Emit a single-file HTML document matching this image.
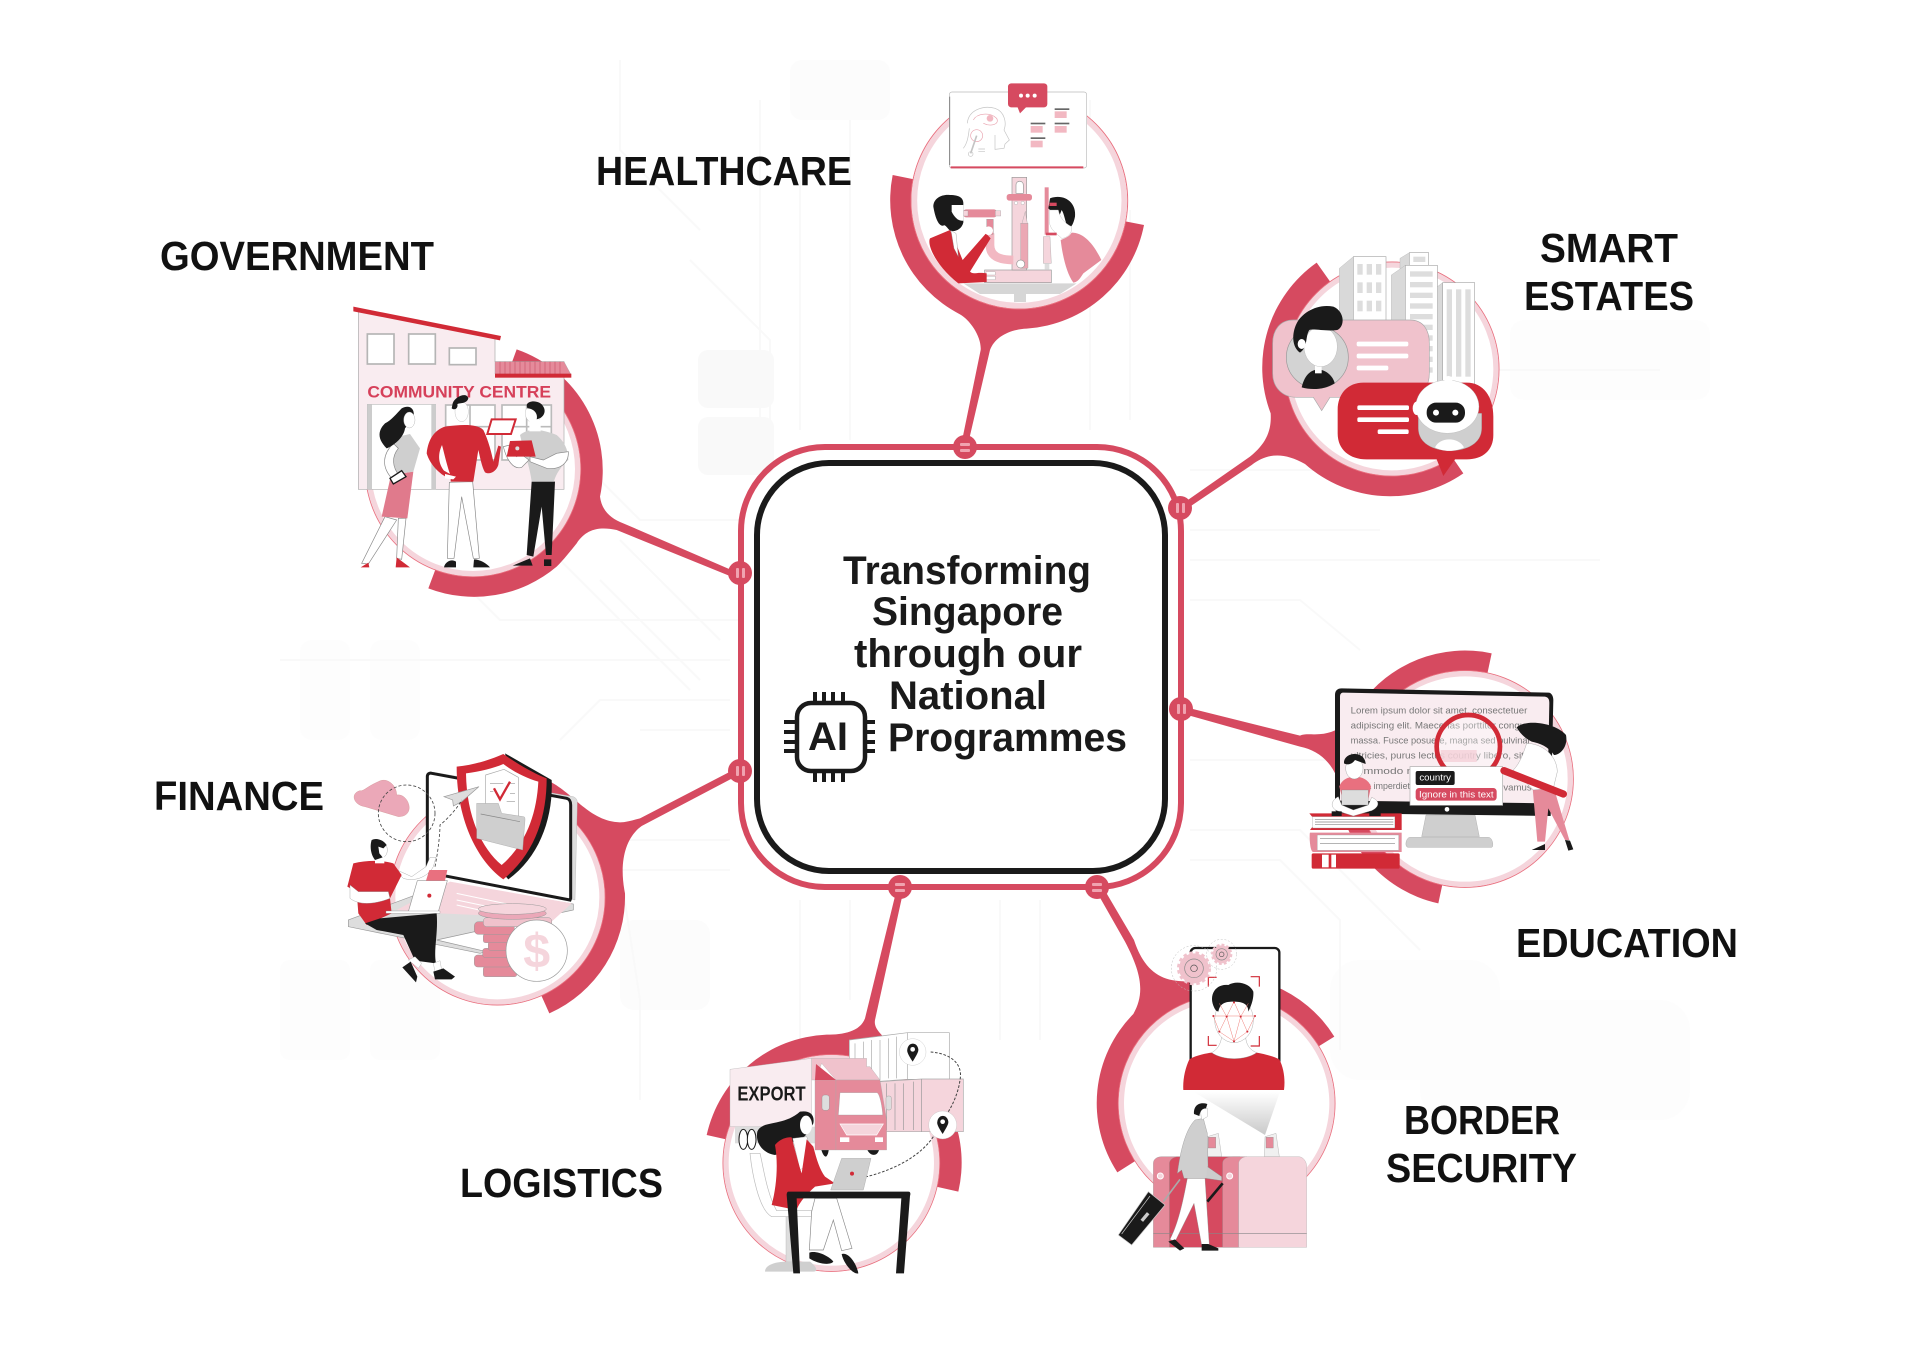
<!DOCTYPE html>
<html lang="en"><head><meta charset="utf-8"><title>Transforming Singapore through our National AI Programmes</title>
<style>
html,body{margin:0;padding:0;background:#fff}
svg{display:block}
text{font-family:"Liberation Sans",sans-serif}
.lb{font-weight:700;font-size:41px;fill:#111}
.ct{font-weight:700;font-size:40px;fill:#1a1a1a}
.c{fill:#d64a60}
.r{fill:#d12a36}
.p{fill:#f5d5dc}
.m{fill:#e58a9a}
.k{fill:#1a1a1a}
.g{fill:#cfcfcf}
.w{fill:#fff}
</style></head><body>
<svg width="1920" height="1357" viewBox="0 0 1920 1357" xmlns="http://www.w3.org/2000/svg">
<rect width="1920" height="1357" fill="#fff"/>

<!-- faint background circuitry -->
<g fill="#f9f9f9" stroke="none">
<rect x="698" y="350" width="76" height="58" rx="10"/><rect x="698" y="417" width="76" height="58" rx="10"/>
<rect x="790" y="60" width="100" height="60" rx="12" fill="#fcfcfc"/>
<rect x="300" y="640" width="50" height="100" rx="12" fill="#fdfdfd"/><rect x="370" y="640" width="50" height="100" rx="12" fill="#fdfdfd"/>
<rect x="280" y="960" width="70" height="100" rx="10" fill="#fdfdfd"/><rect x="370" y="960" width="70" height="100" rx="10" fill="#fdfdfd"/>
<rect x="1330" y="960" width="170" height="120" rx="30" fill="#fdfdfd"/>
<rect x="1420" y="1000" width="270" height="120" rx="30" fill="#fdfdfd"/>
<rect x="1510" y="320" width="200" height="80" rx="14" fill="#fdfdfd"/>
<rect x="620" y="920" width="90" height="90" rx="14" fill="#fcfcfc"/>
</g>
<g fill="none" stroke="#f9f9f9" stroke-width="2">
<path d="M760,100V420M800,180V430M850,120V440M1090,100V430M1130,210V420"/>
<path d="M700,230 L620,150V60M690,260 L770,340V440"/>
<path d="M1190,470H1320L1420,370H1660M1190,530H1380M1190,560H1600M1190,600H1300L1360,650"/>
<path d="M1190,760H1340M1190,830H1300L1420,950M1190,860H1280L1340,920V1050"/>
<path d="M740,520H640L540,420M740,620H500L440,560M730,660H280M730,700H600L560,740M730,730H640"/>
<path d="M730,840H560M730,870H620L640,1000V1100M800,900V1040M850,900V1000M1040,900V1040M1000,900V1040"/>
<path d="M600,580L700,680M560,560L690,690M620,540L720,640"/>
</g>

<!-- labels -->
<text class="lb" x="596" y="185" textLength="256" lengthAdjust="spacingAndGlyphs">HEALTHCARE</text>
<text class="lb" x="160" y="270" textLength="274" lengthAdjust="spacingAndGlyphs">GOVERNMENT</text>
<text class="lb" x="1540" y="262" textLength="138" lengthAdjust="spacingAndGlyphs">SMART</text>
<text class="lb" x="1524" y="310" textLength="170" lengthAdjust="spacingAndGlyphs">ESTATES</text>
<text class="lb" x="154" y="810" textLength="170" lengthAdjust="spacingAndGlyphs">FINANCE</text>
<text class="lb" x="1516" y="957" textLength="222" lengthAdjust="spacingAndGlyphs">EDUCATION</text>
<text class="lb" x="1404" y="1134" textLength="156" lengthAdjust="spacingAndGlyphs">BORDER</text>
<text class="lb" x="1386" y="1182" textLength="191" lengthAdjust="spacingAndGlyphs">SECURITY</text>
<text class="lb" x="460" y="1197" textLength="203" lengthAdjust="spacingAndGlyphs">LOGISTICS</text>

<!-- HEALTHCARE -->
<g transform="translate(880,70) scale(.33333)">
<path class="c" d="M792,465 A385,385 0 0 1 440,776 C390,778 345,800 330,840 L262,1131 L243,1127 L302,840 C305,800 270,750 240,733 A385,385 0 0 1 38,315 L418,392 Z"/>
<circle cx="418" cy="392" r="325" fill="#fff" stroke="#e9707f" stroke-width="3"/>
<circle cx="418" cy="392" r="315" fill="none" stroke="#f5d5dc" stroke-width="17"/>
<rect x="208" y="66" width="412" height="228" rx="8" fill="#fff" stroke="#bbb" stroke-width="2"/>
<path d="M212,292H610" stroke="#d64a60" stroke-width="6"/>
<path d="M209,80V285" stroke="#888" stroke-width="3"/>
<rect class="c" x="384" y="40" width="118" height="72" rx="10"/><path class="c" d="M412,110H440L420,130Z"/>
<circle class="w" cx="423" cy="77" r="6"/><circle class="w" cx="443" cy="77" r="6"/><circle class="w" cx="464" cy="77" r="6"/>
<g fill="none" stroke="#c4c4c4" stroke-width="2">
<path d="M262,160C265,120 310,105 345,115C375,125 380,160 372,180L388,210L375,222L372,235L345,238L345,195"/>
<path d="M280,150C290,130 330,125 350,145C360,165 330,170 310,160" stroke="#e9a3af"/>
<circle cx="290" cy="197" r="18" stroke="#e9a3af"/><path d="M290,197L272,250" stroke-width="5"/><circle cx="272" cy="252" r="7"/>
<path d="M250,235C262,220 265,200 268,175"/><path d="M295,237H315M295,245H315"/>
</g>
<circle cx="330" cy="145" r="10" fill="#f2b8c2"/>
<g fill="#666"><rect x="524" y="115" width="44" height="5"/><rect x="452" y="158" width="44" height="5"/><rect x="524" y="158" width="44" height="5"/><rect x="452" y="202" width="44" height="5"/></g>
<g fill="#f2b8c2"><rect x="524" y="124" width="36" height="20"/><rect x="452" y="168" width="36" height="20"/><rect x="524" y="168" width="36" height="20"/><rect x="452" y="212" width="36" height="20"/></g>
<!-- table + machine -->
<path d="M250,640H590L540,672H300Z" fill="#d6d6d6"/><rect x="402" y="672" width="36" height="24" fill="#d6d6d6"/>
<rect x="314" y="600" width="200" height="38" fill="#f5d5dc" stroke="#999" stroke-width="2"/>
<rect x="318" y="605" width="28" height="10" fill="#fff" stroke="#999"/><rect x="318" y="619" width="28" height="10" fill="#fff" stroke="#999"/>
<rect x="396" y="322" width="44" height="278" fill="#f5d5dc" stroke="#999" stroke-width="2"/>
<path d="M408,370V345C408,330 430,330 430,345V370Z" fill="#fff" stroke="#999" stroke-width="2"/>
<rect class="m" x="380" y="372" width="76" height="20" rx="8"/>
<circle cx="408" cy="399" r="5" fill="#fff" stroke="#999"/><circle cx="428" cy="399" r="5" fill="#fff" stroke="#999"/>
<path d="M330,490V525C330,560 360,570 400,570" fill="none" stroke="#f2b8c2" stroke-width="26"/>
<rect x="422" y="460" width="22" height="135" fill="#eba8b4" stroke="#999"/><path d="M426,460L436,424L442,460Z" fill="#f5d5dc" stroke="#999"/>
<circle cx="422" cy="582" r="12" fill="#fff" stroke="#999" stroke-width="2"/>
<rect class="m" x="250" y="418" width="100" height="24" rx="8"/><rect x="346" y="422" width="16" height="16" fill="#f5d5dc" stroke="#999"/><rect x="250" y="422" width="14" height="16" fill="#f5d5dc" stroke="#999"/>
<rect x="320" y="448" width="20" height="45" fill="#e58a9a" stroke="#888"/>
<rect class="m" x="494" y="352" width="12" height="142"/>
<path d="M490,500H510L514,580H490Z" fill="#f5d5dc" stroke="#999"/><rect x="494" y="580" width="14" height="18" fill="#ddd"/>
<!-- doctor -->
<path class="k" d="M160,410C160,385 185,372 210,375C240,375 252,385 250,405L250,458C245,478 225,487 210,482C200,472 195,462 190,467C175,470 165,440 160,410Z"/>
<path class="w" d="M215,405H250V452C235,455 222,440 215,425Z"/>
<path class="r" d="M210,480L150,505C140,525 170,590 235,640L320,636V610C290,605 280,615 270,605L332,505L318,490L248,570C235,540 225,510 210,480Z"/>
<path class="w" d="M213,482L228,490L235,560L222,535Z" stroke="#888"/>
<circle class="w" cx="326" cy="482" r="13"/>
<!-- patient -->
<path class="k" d="M510,385C550,370 590,395 585,440C580,465 570,480 562,470C556,455 552,430 545,420L535,445L505,415Z"/>
<path class="w" d="M508,420L535,420C540,445 555,460 575,470C578,490 560,505 545,505C530,490 510,480 508,455Z" stroke="#aaa"/>
<path class="m" d="M575,488C610,488 640,520 664,570L610,610C600,625 595,635 580,638C560,610 548,560 542,510C555,505 568,500 575,488Z"/>
<rect class="c" x="508" y="398" width="22" height="10"/><rect class="c" x="498" y="488" width="32" height="8"/>
</g>

<!-- GOVERNMENT -->
<g transform="translate(330,280) scale(.33333)">
<path class="c" d="M560,208 A384,384 0 0 1 810,650 C815,690 840,715 880,730 L1200,868 L1195,886 L860,750 C810,740 770,745 740,790 C720,815 700,840 680,860 A384,384 0 0 1 295,925 L429,567 Z"/>
<circle cx="429" cy="567" r="323" fill="#fff" stroke="#e9707f" stroke-width="3"/>
<circle cx="429" cy="567" r="314" fill="none" stroke="#f5d5dc" stroke-width="16"/>
<path d="M85,95L495,175V245H702V628H85Z" fill="#f9ecf0" stroke="#aaa" stroke-width="2"/>
<path class="r" d="M70,80L513,168L510,181L70,94Z"/>
<g fill="#fff" stroke="#b5b5b5" stroke-width="5"><rect x="112" y="162" width="80" height="90"/><rect x="236" y="162" width="80" height="90"/><rect x="358" y="204" width="80" height="50"/></g>
<path d="M495,245H702L722,282H495Z" fill="#e58a9a" stroke="#999"/>
<path d="M510,245V282M525,245V282M540,245V282M555,245V282M570,245V282M585,245V282M600,245V282M615,245V282M630,245V282M645,245V282M660,245V282M675,245V282M690,245V282" stroke="#c9566a" stroke-width="2"/>
<rect class="r" x="495" y="281" width="229" height="12"/>
<text x="112" y="353" font-size="50" font-weight="700" fill="#d6405a" textLength="551" lengthAdjust="spacingAndGlyphs">COMMUNITY CENTRE</text>
<rect x="112" y="373" width="205" height="255" fill="#fff" stroke="#bdbdbd" stroke-width="2"/>
<rect x="112" y="373" width="14" height="255" fill="#ccc"/><rect x="304" y="373" width="14" height="255" fill="#ccc"/>
<g fill="#fff" stroke="#bbb" stroke-width="5"><rect x="347" y="375" width="148" height="165"/><rect x="516" y="375" width="148" height="165"/><path d="M420,375V540M347,440H495M590,375V540M516,440H664"/></g>
<!-- woman -->
<path d="M165,710L95,850L115,852L200,720ZM205,715L200,835L215,838L228,715Z" fill="#fff" stroke="#888" stroke-width="2"/>
<path class="r" d="M92,862L115,848L118,862ZM197,862L200,832L240,862Z"/>
<path d="M183,585L250,575L232,715L155,710Z" fill="#e07a8c"/>
<path d="M205,470L240,462L270,505L250,575L185,585C190,540 185,510 205,470Z" class="g"/>
<path d="M190,490C160,520 150,560 190,600L210,590C185,560 185,530 205,505Z" fill="#fff" stroke="#888" stroke-width="2"/>
<path class="k" d="M215,385C245,370 258,395 248,415L225,445C222,470 195,495 170,505C145,480 140,455 165,430C185,420 200,400 215,385Z"/>
<ellipse cx="238" cy="420" rx="17" ry="24" fill="#fff" stroke="#999"/>
<path d="M180,595L215,572L228,590L190,612Z" fill="#fff" stroke="#1a1a1a" stroke-width="4"/>
<!-- man red -->
<path d="M358,607L428,605L448,835L430,835L395,650L372,835L352,835Z" fill="#fff" stroke="#888" stroke-width="2"/>
<path class="k" d="M342,862C345,845 365,835 378,845V862ZM430,862L432,838C450,838 470,850 480,862Z"/>
<rect class="w" x="375" y="410" width="40" height="30"/>
<ellipse cx="395" cy="395" rx="20" ry="30" fill="#fff" stroke="#aaa"/>
<path class="k" d="M368,370C375,350 410,335 415,355C410,372 390,368 382,372C385,385 375,392 365,385Z"/>
<path class="r" d="M345,440C390,434 440,430 460,450C475,480 485,520 490,545L505,497L513,500L505,555C498,575 480,585 465,577C455,560 450,530 445,510L430,605H362V595C335,590 300,555 290,520C295,475 315,450 345,440Z"/>
<path class="w" d="M336,495C345,530 352,560 360,582L342,572C326,552 322,525 336,495Z"/>
<path d="M345,582L378,590L370,598L345,595Z" fill="#fff"/>
<path d="M485,418H557L543,462H472Z" fill="#fff" stroke="#d12a36" stroke-width="6"/>
<!-- man right -->
<path class="k" d="M605,605H675L665,825H648L635,680L610,830L590,825ZM548,857L600,835L608,857ZM642,838H664V858H642Z"/>
<path class="g" d="M570,465C600,440 640,450 680,465C710,490 715,520 715,540C690,560 675,590 672,605H605C600,560 580,510 570,465Z"/>
<ellipse cx="610" cy="400" rx="24" ry="28" fill="#fff" stroke="#aaa"/><rect class="w" x="598" y="420" width="34" height="34"/>
<path class="k" d="M590,375C595,360 630,360 640,380C650,395 640,415 620,418C625,400 610,385 592,385Z"/>
<path d="M600,530L640,540L680,520L715,515C717,550 690,570 650,565L600,545Z" fill="#fff" stroke="#888" stroke-width="2"/>
<path d="M520,500C530,540 550,570 575,562L597,540L570,520L560,530L540,495Z" fill="#fff" stroke="#888" stroke-width="2"/>
<path class="r" d="M540,483L605,481L617,530H530Z"/><circle cx="562" cy="505" r="6" fill="#ddd"/>
</g>

<!-- SMART ESTATES -->
<g transform="translate(1250,240) scale(.33333)">
<path class="c" d="M200,68 A385,385 0 0 0 62,520 C65,570 50,610 0,650 L-208,795 L-198,812 L5,675 C50,640 100,635 165,672 A385,385 0 0 0 640,700 L426,387 Z"/>
<circle cx="426" cy="387" r="321" fill="#fff" stroke="#e9707f" stroke-width="3"/>
<circle cx="426" cy="387" r="312" fill="none" stroke="#f5d5dc" stroke-width="16"/>
<!-- buildings -->
<path d="M268,85L310,50V260H268Z" fill="#d9d9d9" stroke="#aaa"/><rect x="310" y="50" width="98" height="210" fill="#fff" stroke="#aaa" stroke-width="2"/>
<g fill="#ddd"><rect x="322" y="72" width="16" height="32"/><rect x="350" y="72" width="16" height="32"/><rect x="378" y="72" width="16" height="32"/><rect x="322" y="127" width="16" height="32"/><rect x="350" y="127" width="16" height="32"/><rect x="378" y="127" width="16" height="32"/><rect x="322" y="182" width="16" height="32"/><rect x="350" y="182" width="16" height="32"/><rect x="378" y="182" width="16" height="32"/></g>
<path d="M450,55L478,38V90H450Z" fill="#d9d9d9" stroke="#aaa"/><rect x="478" y="38" width="58" height="50" fill="#fff" stroke="#aaa" stroke-width="2"/><rect x="490" y="50" width="36" height="16" fill="#ddd"/>
<path d="M424,105L466,76V440H424Z" fill="#d9d9d9" stroke="#aaa"/><rect x="466" y="76" width="96" height="364" fill="#fff" stroke="#aaa" stroke-width="2"/>
<g fill="#ddd"><rect x="480" y="94" width="68" height="16"/><rect x="480" y="126" width="68" height="16"/><rect x="480" y="158" width="68" height="16"/><rect x="480" y="190" width="68" height="16"/><rect x="480" y="222" width="68" height="16"/><rect x="480" y="254" width="68" height="16"/><rect x="480" y="286" width="68" height="16"/><rect x="480" y="318" width="68" height="16"/><rect x="480" y="350" width="68" height="16"/><rect x="480" y="382" width="68" height="16"/></g>
<path d="M562,140L578,128V430H562Z" fill="#d9d9d9" stroke="#aaa"/><rect x="578" y="128" width="96" height="304" fill="#fff" stroke="#aaa" stroke-width="2"/>
<g fill="#ddd"><rect x="590" y="148" width="16" height="262"/><rect x="618" y="148" width="16" height="262"/><rect x="646" y="148" width="16" height="262"/></g>
<!-- person bubble -->
<path d="M130,240H480C520,240 538,270 538,310V400C538,445 510,472 470,472H240L215,512L190,472H140C95,472 68,440 68,400V310C68,270 90,240 130,240Z" fill="#f0c2cc" stroke="#aaa" stroke-width="2"/>
<circle cx="202" cy="352" r="93" fill="#d3d3d3" stroke="#999" stroke-width="2"/>
<path class="k" d="M155,442C165,400 185,390 205,388C230,390 250,410 254,430C220,450 185,450 155,442Z"/>
<rect class="w" x="195" y="372" width="20" height="28"/>
<ellipse cx="212" cy="320" rx="50" ry="60" fill="#fff" stroke="#aaa"/>
<path class="k" d="M140,250C155,220 200,190 250,200C285,215 285,260 262,270C230,275 190,265 178,270C165,290 175,320 150,338C125,320 125,280 140,250Z"/>
<ellipse cx="155" cy="312" rx="12" ry="15" fill="#fff"/>
<g fill="#fff"><rect x="320" y="305" width="155" height="14" rx="5"/><rect x="320" y="341" width="155" height="14" rx="5"/><rect x="320" y="377" width="95" height="14" rx="5"/></g>
<!-- bot bubble -->
<path class="r" d="M340,428H650C700,428 730,470 730,530V585C730,630 700,658 650,658H615L580,708L560,658H350C300,658 263,630 263,580V510C263,460 295,428 340,428Z"/>
<path class="g" d="M505,520H695V565C695,610 650,632 600,632C550,632 505,610 505,565Z" stroke="#999"/>
<path class="w" d="M555,622C570,590 625,590 642,622C615,636 580,636 555,622Z"/>
<ellipse cx="592" cy="500" rx="95" ry="80" fill="#fff" stroke="#aaa"/>
<circle class="w" cx="595" cy="420" r="12"/><ellipse class="w" cx="500" cy="505" rx="12" ry="20"/>
<rect class="k" x="530" y="488" width="115" height="60" rx="28"/>
<circle class="w" cx="558" cy="518" r="9"/><circle class="w" cx="616" cy="518" r="9"/>
<g fill="#fff"><rect x="322" y="496" width="155" height="14" rx="5"/><rect x="322" y="532" width="155" height="14" rx="5"/><rect x="383" y="568" width="93" height="14" rx="5"/></g>
</g>

<!-- EDUCATION -->
<g transform="translate(1300,640) scale(.33333)">
<path class="c" d="M575,40 A385,385 0 0 0 180,195 C150,240 120,285 40,283 C25,283 10,282 0,287 L-350,200 L-355,220 L0,320 C50,330 90,360 112,415 A385,385 0 0 0 415,790 L495,417 Z"/>
<circle cx="495" cy="417" r="325" fill="#fff" stroke="#e9707f" stroke-width="3"/>
<circle cx="495" cy="417" r="316" fill="none" stroke="#f5d5dc" stroke-width="16"/>
<path class="g" d="M378,525H525L538,590H365Z" stroke="#999"/><path class="g" d="M330,592H565C578,592 582,620 575,622H325C312,622 318,592 330,592Z" stroke="#999"/>
<path class="k" d="M125,145L745,158C755,158 760,170 760,180L752,528L120,520C108,520 105,510 105,500V165C105,152 112,145 125,145Z"/>
<path d="M130,158L735,170C745,172 748,178 748,190L742,490L120,482V170C120,162 124,158 130,158Z" fill="#f9ecf0"/>
<circle class="w" cx="441" cy="508" r="7"/>
<g font-size="26.5" fill="#777">
<text x="152" y="220" textLength="530" lengthAdjust="spacingAndGlyphs">Lorem ipsum dolor sit amet, consectetuer</text>
<text x="152" y="265" textLength="540" lengthAdjust="spacingAndGlyphs">adipiscing elit. Maecenas porttitor congue</text>
<text x="152" y="310" textLength="540" lengthAdjust="spacingAndGlyphs">massa. Fusce posuere, magna sed pulvinar</text>
<text x="152" y="356" textLength="520" lengthAdjust="spacingAndGlyphs">ultricies, purus lectus country libero, sit</text>
<text x="190" y="402" textLength="240" lengthAdjust="spacingAndGlyphs">mmodo magna</text>
<text x="190" y="447" textLength="140" lengthAdjust="spacingAndGlyphs">ra imperdiet</text>
<text x="610" y="452" textLength="85" lengthAdjust="spacingAndGlyphs">vamus</text>
</g>
<rect x="422" y="330" width="108" height="36" fill="#f0b8c4" opacity=".8"/>
<circle cx="505" cy="320" r="95" fill="#fff" fill-opacity=".35" stroke="#d12a36" stroke-width="14"/>
<rect x="330" y="380" width="278" height="116" fill="#fff" stroke="#aaa" stroke-width="2"/>
<rect class="k" x="347" y="393" width="117" height="42" rx="6"/>
<text x="358" y="422" font-size="27" fill="#fff" textLength="95" lengthAdjust="spacingAndGlyphs">country</text>
<rect class="c" x="347" y="444" width="243" height="38" rx="10"/>
<text x="357" y="472" font-size="27" fill="#fff" textLength="224" lengthAdjust="spacingAndGlyphs">Ignore in this text</text>
<!-- woman -->
<path class="m" d="M698,445H762L808,600H795L745,505L735,605H712Z"/>
<path class="w" d="M680,310C720,310 770,340 772,395L760,445L700,450L640,390C660,370 670,340 680,310Z" stroke="#888"/>
<path class="k" d="M650,262C680,235 770,250 798,285C805,320 780,345 762,345C745,320 720,310 695,305C675,295 660,280 650,262Z"/>
<path class="k" d="M695,630L735,612V630ZM795,600L810,602L820,628L805,632Z"/>
<path d="M612,392L790,462" stroke="#d12a36" stroke-width="22" stroke-linecap="round"/>
<!-- books -->
<path class="r" d="M28,520H305V570H30L36,562H285V530H36Z"/>
<rect x="38" y="530" width="246" height="34" fill="#fff" stroke="#999"/><path d="M45,538H280M45,546H280M45,554H280" stroke="#888" stroke-width="2"/>
<path class="m" d="M30,578H305V636H40C28,636 28,578 30,578Z"/>
<rect x="52" y="585" width="244" height="46" fill="#fff" stroke="#999"/><path d="M60,596H285M60,610H285" stroke="#888" stroke-width="2"/>
<rect class="r" x="35" y="640" width="264" height="46" rx="5"/><rect class="w" x="66" y="644" width="20" height="38"/><rect class="w" x="94" y="644" width="14" height="38"/>
<!-- boy -->
<path d="M118,440C130,400 200,400 213,440L205,478H128Z" fill="#e9707f"/>
<ellipse cx="163" cy="385" rx="26" ry="32" fill="#fff" stroke="#888"/><path class="k" d="M132,370C130,335 195,330 197,372L165,360C155,375 140,375 132,370Z"/>
<rect x="125" y="450" width="80" height="45" fill="#ddd" stroke="#888"/>
<path class="w" d="M115,470C95,480 88,500 110,512L160,528L215,512C240,500 240,482 215,472L205,495L160,510L125,495Z" stroke="#888"/>
<rect class="k" x="95" y="514" width="30" height="14"/><rect class="k" x="208" y="514" width="34" height="14"/>
</g>

<!-- BORDER SECURITY -->
<g transform="translate(1100,940) scale(.33333)">
<path class="c" d="M703,290 A380,380 0 0 0 280,123 C190,130 135,100 102,0 L8,-160 L-12,-148 L75,5 C125,100 135,160 100,222 A380,380 0 0 0 52,697 L380,490 Z"/>
<circle cx="380" cy="490" r="325" fill="#fff" stroke="#e9707f" stroke-width="3"/>
<circle cx="380" cy="490" r="316" fill="none" stroke="#f5d5dc" stroke-width="16"/>
<rect x="272" y="24" width="266" height="360" rx="14" fill="#fff" stroke="#1a1a1a" stroke-width="7"/>
<path class="r" d="M268,358C290,345 320,340 335,338C370,362 435,362 470,338C490,342 520,348 538,358C552,385 556,420 552,450H250C248,420 255,385 268,358Z"/>
<path d="M365,290C362,315 350,330 335,338C370,362 435,362 470,338C450,330 438,315 437,290Z" fill="#fff" stroke="#888"/>
<ellipse cx="402" cy="240" rx="58" ry="68" fill="#fff" stroke="#888"/>
<path class="k" d="M348,212C320,170 345,130 385,135C410,120 450,130 460,155C462,180 450,205 445,215C445,190 425,185 400,185C375,185 360,190 355,215Z"/>
<g fill="none" stroke="#d12a36" stroke-width="3.5"><path d="M325,140V112H350M452,110H478V140M325,288V316H350M452,318H478V288"/></g>
<g fill="none" stroke="#ef7d78" stroke-width="1.5"><path d="M340,228H465L442,275L402,304L358,275ZM380,230L402,185L422,230L402,304ZM358,190L380,230L358,275M445,190L422,230L442,275"/></g>
<g fill="#d12a36"><circle cx="340" cy="228" r="3"/><circle cx="465" cy="228" r="3"/><circle cx="402" cy="304" r="3"/><circle cx="358" cy="275" r="3"/><circle cx="442" cy="275" r="3"/><circle cx="380" cy="230" r="3"/><circle cx="422" cy="230" r="3"/><circle cx="402" cy="187" r="3"/></g>
<!-- gears -->
<circle cx="282" cy="85" r="68" fill="none" stroke="#bbb" stroke-dasharray="6 5" stroke-width="1.5"/>
<circle cx="365" cy="43" r="45" fill="none" stroke="#bbb" stroke-dasharray="6 5" stroke-width="1.5"/>
<circle cx="282" cy="85" r="45" fill="#f0c2cc" stroke="#f0c2cc" stroke-width="12" stroke-dasharray="10 8"/>
<circle cx="282" cy="85" r="28" fill="none" stroke="#888" stroke-width="2"/><circle cx="282" cy="85" r="10" fill="none" stroke="#555" stroke-width="2"/>
<circle cx="365" cy="43" r="27" fill="#f0c2cc" stroke="#f0c2cc" stroke-width="10" stroke-dasharray="8 6"/>
<circle cx="365" cy="43" r="17" fill="none" stroke="#888" stroke-width="2"/><circle cx="365" cy="43" r="7" fill="none" stroke="#555" stroke-width="2"/>
<defs><linearGradient id="bm" x1="0" y1="0" x2="0" y2="1"><stop offset="0" stop-color="#fff"/><stop offset="1" stop-color="#c9c9c9"/></linearGradient></defs>
<path d="M280,455H540L495,585Z" fill="url(#bm)"/>
<!-- scanner -->
<path d="M322,590L355,580L365,650H322Z" fill="#f0f0f0" stroke="#999"/><rect x="325" y="592" width="22" height="32" fill="#e58a9a" stroke="#888"/>
<path d="M495,590L528,580L538,650H493Z" fill="#f0f0f0" stroke="#999"/><rect x="498" y="592" width="22" height="32" fill="#e58a9a" stroke="#888"/>
<!-- gates -->
<path class="m" d="M160,670C160,655 175,650 185,650H235L208,670V922H160Z" stroke="#999"/>
<path class="c" d="M235,650H420V922H208V670C208,660 220,650 235,650Z" stroke="#999"/>
<circle cx="181" cy="708" r="9" fill="#f5d5dc" stroke="#fff" stroke-width="3"/>
<path class="m" d="M368,670C368,655 385,650 400,650H440L416,670V922H368Z" stroke="#999"/>
<path class="p" d="M440,650H595C610,650 620,665 620,680V922H416V670C416,660 428,650 440,650Z" stroke="#aaa"/>
<circle cx="389" cy="708" r="9" fill="#f5d5dc" stroke="#fff" stroke-width="3"/>
<path d="M160,880H620" stroke="#888" stroke-width="2"/>
<path d="M322,785L368,730" stroke="#1a1a1a" stroke-width="8"/>
<!-- traveller -->
<path d="M262,715L315,715L328,915H305L282,790L225,905L210,898C235,850 250,780 262,715Z" fill="#fff" stroke="#888"/>
<path class="k" d="M205,905L225,898L253,925L240,932ZM305,912L325,912L355,925V932H305Z"/>
<path class="g" d="M285,540L310,535L322,580L325,715H252L245,690L232,700C240,640 255,570 285,540Z" stroke="#888"/>
<path d="M322,680L365,710V722L318,715" fill="#ccc" stroke="#888"/>
<path d="M300,505H322V530L305,540Z" fill="#fff" stroke="#999"/>
<path class="k" d="M282,522C280,495 300,485 322,492L318,505C305,505 300,515 298,528Z"/>
<path d="M190,785L240,718" stroke="#aaa" stroke-width="5"/>
<path class="k" d="M145,755L195,795L95,915L55,885Z" stroke="#ccc" stroke-width="2"/>
<path d="M150,768L65,882" stroke="#ccc" stroke-width="2"/><rect x="120" y="826" width="30" height="10" transform="rotate(-50 135 831)" fill="#ccc"/>
</g>

<!-- LOGISTICS -->
<g transform="translate(700,1020) scale(.33333)">
<path class="c" d="M20,345 A385,385 0 0 1 380,44 C430,44 480,35 495,-5 L592,-400 L612,-396 L525,0 C520,30 550,50 620,112 A385,385 0 0 1 775,515 L394,429 Z"/>
<circle cx="394" cy="429" r="325" fill="#fff" stroke="#e9707f" stroke-width="3"/>
<circle cx="394" cy="429" r="316" fill="none" stroke="#f5d5dc" stroke-width="16"/>
<!-- containers -->
<path d="M448,60L622,38H748V178H622L448,190Z" fill="#fff" stroke="#aaa" stroke-width="2"/>
<path d="M465,70V180M490,65V180M515,60V180M540,60V180M565,55V175M590,50V175M622,38V178" stroke="#aaa" stroke-width="2"/>
<path d="M540,185L665,177H790V335H665L540,335Z" fill="#f5d5dc" stroke="#aaa" stroke-width="2"/>
<path d="M560,190V330M585,190V330M610,190V330M640,185V330M665,177V335" stroke="#999" stroke-width="2"/>
<circle cx="638" cy="96" r="40" fill="#fff" stroke="#bbb"/>
<path class="k" d="M638,125C625,105 620,95 622,88C625,65 652,65 655,88C656,95 650,105 638,125Z"/><circle class="w" cx="638" cy="88" r="7"/>
<circle cx="728" cy="315" r="42" fill="#fff" stroke="#bbb"/>
<path class="k" d="M728,342C715,322 710,312 712,305C715,282 742,282 745,305C746,312 740,322 728,342Z"/><circle class="w" cx="728" cy="305" r="7"/>
<path d="M692,96C750,100 790,130 780,180C775,220 755,260 745,275M700,350C660,410 580,450 500,470" fill="none" stroke="#444" stroke-width="3" stroke-dasharray="8 5"/>
<!-- truck -->
<rect x="105" y="320" width="260" height="50" fill="#ddd"/>
<g fill="#fff" stroke="#1a1a1a" stroke-width="3"><ellipse cx="130" cy="358" rx="13" ry="30"/><ellipse cx="155" cy="358" rx="13" ry="30"/></g>
<path d="M90,148L335,115V320H90Z" fill="#f9ecf0" stroke="#aaa"/>
<text x="112" y="242" font-size="62" font-weight="700" fill="#1a1a1a" textLength="205" lengthAdjust="spacingAndGlyphs">EXPORT</text>
<path class="k" d="M362,335C390,340 392,400 378,410C362,408 355,350 362,335ZM500,385H538C535,410 510,412 500,385Z"/>
<path d="M335,115H500V140H510L540,180H408L365,130L345,180H335Z" fill="#f0c2cc" stroke="#aaa"/>
<path class="m" d="M345,180H408V390H345Z" stroke="#aaa"/><path class="c" d="M348,132L408,180H345Z"/>
<path class="m" d="M408,180H540L560,300V390H408Z" stroke="#aaa"/>
<path d="M420,218H530C540,218 548,270 548,285H415Z" fill="#fff" stroke="#999"/>
<rect x="366" y="225" width="22" height="46" rx="8" fill="#ddd" stroke="#888"/><rect x="558" y="228" width="16" height="42" rx="6" fill="#ddd" stroke="#888"/>
<path d="M420,312H550L530,345H440Z" fill="#f5d5dc" stroke="#fff" stroke-width="2"/><rect class="w" x="420" y="352" width="28" height="14"/><rect class="w" x="525" y="352" width="24" height="14"/>
<!-- chair -->
<path d="M150,400C155,450 175,570 215,590H335V572H230C200,520 190,440 180,400Z" fill="#fff" stroke="#bbb" stroke-width="2"/>
<rect x="258" y="590" width="28" height="135" fill="#ddd" stroke="#aaa"/>
<path class="g" d="M195,755C195,730 240,725 260,725H330C350,740 355,755 340,755Z"/>
<!-- woman -->
<path d="M345,535L410,535L456,685L425,692L400,600L370,690L328,690L335,575Z" fill="#fff" stroke="#888" stroke-width="2"/>
<path class="k" d="M328,698C350,690 390,710 400,725C390,738 350,730 328,715ZM425,702C445,695 470,730 475,760C460,765 430,730 425,702Z"/>
<path class="k" d="M300,275C330,270 345,285 340,310C325,335 315,355 300,355C275,360 250,400 225,405C190,400 165,370 172,335C185,300 250,320 300,275Z"/>
<ellipse cx="318" cy="315" rx="18" ry="28" fill="#fff"/>
<path d="M278,355L320,350L345,420L300,450Z" fill="#fff" stroke="#888"/>
<path class="r" d="M225,375C240,355 265,350 275,352C285,390 298,440 305,460L320,358L340,380C350,420 360,450 375,470L405,490L345,500C335,510 300,540 290,570L215,555C230,500 235,430 225,375Z"/>
<path class="g" d="M425,415L513,415L490,510H392Z" stroke="#999"/><circle class="r" cx="456" cy="461" r="6"/>
<!-- desk -->
<path class="k" d="M265,515H625C632,515 632,522 630,528L612,760H588L604,535H290L300,760H280L260,525C260,520 262,515 265,515Z"/>
</g>

<!-- FINANCE -->
<g transform="translate(340,750) scale(.33333)">
<path class="c" d="M630,95 C700,130 750,215 840,217 C860,217 880,210 900,205 L1195,52 L1205,70 L905,228 C860,260 835,330 855,430 A383,383 0 0 1 628,790 L472,442 Z"/>
<circle cx="472" cy="442" r="323" fill="#fff" stroke="#e9707f" stroke-width="3"/>
<circle cx="472" cy="442" r="314" fill="none" stroke="#f5d5dc" stroke-width="16"/>
<!-- laptop base -->
<path d="M25,510L320,400L700,462V480L290,570L440,605L420,610L25,530Z" fill="#ddd" stroke="#999" stroke-width="2"/>
<path d="M170,480L330,395L695,460L635,515L410,495L300,490Z" fill="#f5d5dc"/>
<path d="M350,430L540,470M350,450L470,475M350,465L440,485" stroke="#fff" stroke-width="3"/>
<!-- screen -->
<path d="M270,65L700,140C710,145 712,150 712,160L705,450L275,360Z" fill="#ddd" stroke="#aaa"/>
<path d="M275,70L680,145C690,148 692,155 692,165V445L690,450L275,370C265,368 262,360 262,350V80C262,72 268,68 275,70Z" fill="#fff" stroke="#1a1a1a" stroke-width="9"/>
<!-- shield -->
<path class="k" d="M495,10L635,90C640,200 600,320 505,388L480,360L500,30Z"/>
<path class="r" d="M350,50C400,45 450,30 490,12C530,40 580,70 620,85C620,200 585,310 490,388C420,340 350,220 350,50Z"/>
<path class="w" d="M378,70C420,65 460,55 490,42C520,65 560,85 595,95C590,190 560,280 485,345C425,295 380,200 378,70Z"/>
<path d="M437,75L492,58L535,82V200H437Z" fill="#fff" stroke="#aaa" stroke-width="2"/>
<path d="M450,100H490M510,100H525M450,125H460M510,130H525M500,155H525" stroke="#999" stroke-width="2"/>
<path d="M462,115L480,148L510,95" fill="none" stroke="#d12a36" stroke-width="7"/>
<path class="g" d="M410,160H475L485,190L550,200C555,200 555,205 555,210L548,300L410,265Z" stroke="#999"/>
<path d="M422,192L540,215" stroke="#888" stroke-width="2"/>
<!-- plane, cloud -->
<path d="M312,140L417,110L365,155L340,168L338,150Z" fill="#ddd" stroke="#999" stroke-width="2"/>
<path d="M115,95C140,80 170,105 170,135C195,130 215,165 205,185C200,195 190,200 175,200L75,170C40,165 30,130 60,122C70,125 80,110 115,95Z" fill="#eba8b8" stroke="#c88" stroke-width="1"/>
<g fill="none" stroke="#444" stroke-width="2.5" stroke-dasharray="9 6"><circle cx="200" cy="190" r="85" /><path d="M285,350C295,300 300,250 300,225C330,200 355,170 365,150"/></g>
<!-- coins -->
<g stroke="#999" stroke-width="1.5">
<rect class="m" x="430" y="650" width="100" height="30" rx="6"/>
<rect class="m" x="403" y="615" width="110" height="36" rx="10"/>
<rect class="m" x="428" y="595" width="90" height="28" rx="8"/>
<rect class="m" x="445" y="575" width="70" height="26" rx="6"/>
<rect class="m" x="430" y="552" width="90" height="26" rx="6"/>
<rect class="m" x="403" y="515" width="120" height="38" rx="12"/>
<rect x="430" y="503" width="205" height="27" rx="10" fill="#f0c2cc"/>
<ellipse cx="517" cy="490" rx="102" ry="18" fill="#eba8b8"/><ellipse cx="517" cy="477" rx="102" ry="16" fill="#f5d5dc"/>
</g>
<circle cx="590" cy="602" r="92" fill="#fff" stroke="#999" stroke-width="2"/>
<text x="590" y="652" font-size="145" font-weight="700" fill="#f5d5dc" text-anchor="middle">$</text>
<!-- man -->
<path d="M160,355L215,380L258,350L270,322L288,322L280,350C260,385 220,395 190,385Z" fill="#fff" stroke="#888"/>
<path class="r" d="M40,340C80,330 130,330 160,340L185,375L150,445L155,490L80,525L55,490L50,425L22,410Z"/>
<path d="M30,405L55,425L145,425L150,445C100,465 55,465 30,445Z" fill="#fff" stroke="#888"/>
<path class="k" d="M120,505L290,490C295,550 280,600 288,640L225,632L190,555L110,540L75,520Z"/>
<path d="M205,630L225,620L245,640L235,655ZM280,640L300,632L305,660L285,665Z" fill="#fff" stroke="#999"/>
<path class="k" d="M187,652L212,635L232,680L228,697ZM280,665L310,655L345,680L335,688H285Z"/>
<ellipse cx="120" cy="300" rx="22" ry="26" fill="#fff" stroke="#888"/>
<rect class="w" x="105" y="320" width="28" height="20"/>
<path class="k" d="M95,270C110,262 130,270 140,285L130,295L115,290L118,310L128,322L105,330C90,310 90,285 95,270Z"/>
<path d="M232,392H322L295,485H205Z" fill="#fff" stroke="#999" stroke-width="2"/><circle class="r" cx="268" cy="437" r="6"/>
<path d="M138,483H300V490H138Z" fill="#fff" stroke="#888"/>
<path d="M268,360H322L315,392H258Z" fill="#e9707f"/>
</g>

<!-- central rounded box -->
<rect x="741" y="447" width="440" height="440" rx="84" fill="none" stroke="#d64a60" stroke-width="6"/>
<rect x="757" y="463" width="408" height="408" rx="72" fill="#fff" stroke="#1a1a1a" stroke-width="6"/>

<!-- connector nodes -->
<g fill="#d64a60">
<circle cx="965" cy="447" r="12"/><circle cx="1180" cy="508" r="12"/><circle cx="1181" cy="709" r="12"/><circle cx="1097" cy="887" r="12"/><circle cx="900" cy="887" r="12"/><circle cx="740" cy="573" r="12"/><circle cx="740" cy="771" r="12"/>
</g>
<g fill="#f0a3b0">
<rect x="960" y="443" width="10" height="3" rx="1"/><rect x="960" y="449" width="10" height="3" rx="1"/>
<rect x="895" y="883" width="10" height="3" rx="1"/><rect x="895" y="889" width="10" height="3" rx="1"/>
<rect x="1092" y="883" width="10" height="3" rx="1"/><rect x="1092" y="889" width="10" height="3" rx="1"/>
<rect x="736" y="568" width="3" height="10" rx="1"/><rect x="742" y="568" width="3" height="10" rx="1"/>
<rect x="736" y="766" width="3" height="10" rx="1"/><rect x="742" y="766" width="3" height="10" rx="1"/>
<rect x="1176" y="503" width="3" height="10" rx="1"/><rect x="1182" y="503" width="3" height="10" rx="1"/>
<rect x="1177" y="704" width="3" height="10" rx="1"/><rect x="1183" y="704" width="3" height="10" rx="1"/>
</g>

<!-- centre text -->
<text class="ct" x="843" y="584" textLength="248" lengthAdjust="spacingAndGlyphs">Transforming</text>
<text class="ct" x="872" y="625" textLength="191" lengthAdjust="spacingAndGlyphs">Singapore</text>
<text class="ct" x="854" y="667" textLength="228" lengthAdjust="spacingAndGlyphs">through our</text>
<text class="ct" x="889" y="709" textLength="158" lengthAdjust="spacingAndGlyphs">National</text>
<text class="ct" x="888" y="751" textLength="239" lengthAdjust="spacingAndGlyphs">Programmes</text>

<!-- AI chip -->
<rect x="797" y="703" width="68" height="68" rx="14" fill="#fff" stroke="#1a1a1a" stroke-width="4.5"/>
<path d="M815,692V702M824,692V702M833,692V702M843,692V702M815,772V782M824,772V782M833,772V782M843,772V782M784,722H795M784,732H795M784,742H795M784,751H795M866,722H875M866,732H875M866,742H875M866,751H875" stroke="#1a1a1a" stroke-width="4"/>
<text x="808" y="750" font-size="40" font-weight="700" fill="#1a1a1a" textLength="40" lengthAdjust="spacingAndGlyphs">AI</text>
</svg>
</body></html>
